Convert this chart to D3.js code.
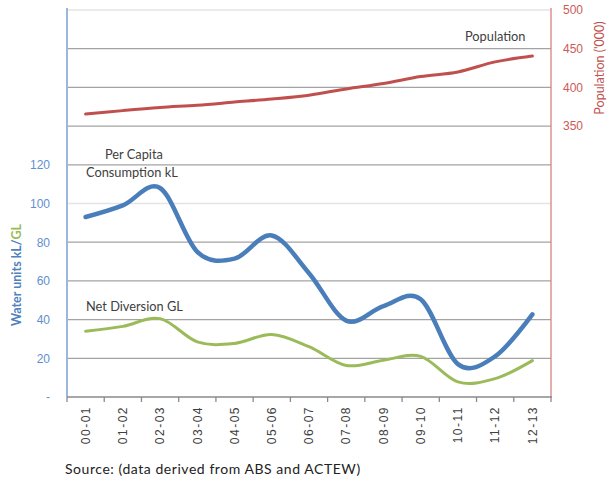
<!DOCTYPE html>
<html>
<head>
<meta charset="utf-8">
<script src="https://cdn.jsdelivr.net/npm/d3@7"></script>
<style>
  html, body { margin: 0; padding: 0; background: #fff; }
  svg { display: block; font-family: Lato, "Liberation Sans", sans-serif; }
</style>
</head>
<body>
<svg id="chart" width="611" height="482"></svg>
<script>
const categories = ["00-01","01-02","02-03","03-04","04-05","05-06","06-07","07-08","08-09","09-10","10-11","11-12","12-13"];
const perCapita = [93, 99, 108, 75, 71.5, 83.5, 64, 39.5, 47, 50.5, 17, 21, 42.7];
const netDiversion = [34, 36.5, 40.5, 28.5, 27.7, 32.3, 26, 16.3, 19, 21, 7.8, 9.5, 18.8];
const population = [365.5, 370, 374, 377, 381, 385, 390, 398, 405, 414, 420, 433, 440.5];
const leftTicks = [0, 20, 40, 60, 80, 100, 120];
const rightTicks = [350, 400, 450, 500];
const gridValues = [20, 40, 60, 80, 100, 120, 140, 160, 180, 200];

const svg = d3.select("#chart");
const L = 67, R = 551, T = 10, B = 397;

const x = d3.scaleBand().domain(categories).range([L, R]).padding(0);
const yL = d3.scaleLinear().domain([0, 200]).range([B, T]);
const yR = d3.scaleLinear().domain([0, 500]).range([B, T]);
const cx = c => x(c) + x.bandwidth() / 2;

// gridlines
svg.append("g").selectAll("line").data(gridValues).join("line")
  .attr("x1", L).attr("x2", R)
  .attr("y1", d => yL(d)).attr("y2", d => yL(d))
  .attr("stroke", d => (d === 100 || d === 200) ? "#e4e4e4" : "#a3a3a3")
  .attr("stroke-width", 1.3);

// left axis
const gl = svg.append("g").attr("transform", `translate(${L},0)`)
  .call(d3.axisLeft(yL).tickValues(leftTicks).tickSize(0).tickPadding(17)
    .tickFormat(d => d === 0 ? "-" : d));
gl.select(".domain").remove();
gl.selectAll("text").attr("fill", "#5f8fcf").attr("font-size", "12px");
svg.append("line").attr("x1", L).attr("x2", L).attr("y1", T - 2).attr("y2", B)
  .attr("stroke", "#9bb8dc").attr("stroke-width", 2);

// right axis
const gr = svg.append("g").attr("transform", `translate(${R},0)`)
  .call(d3.axisRight(yR).tickValues(rightTicks).tickSize(0).tickPadding(12));
gr.select(".domain").remove();
gr.selectAll("text").attr("fill", "#cc5a57").attr("font-size", "12px");
svg.append("line").attr("x1", R).attr("x2", R).attr("y1", T - 2).attr("y2", B)
  .attr("stroke", "#d9817f").attr("stroke-width", 1.3);

// bottom axis
svg.append("line").attr("x1", L).attr("x2", R + 1).attr("y1", B).attr("y2", B)
  .attr("stroke", "#8a8a8a").attr("stroke-width", 1.3);
const edges = categories.map(c => x(c)).concat([R]);
svg.append("g").selectAll("line").data(edges).join("line")
  .attr("x1", d => d).attr("x2", d => d).attr("y1", B).attr("y2", B + 5)
  .attr("stroke", "#8a8a8a").attr("stroke-width", 1.3);
const gb = svg.append("g").attr("transform", `translate(0,${B})`)
  .call(d3.axisBottom(x).tickSize(0).tickPadding(0));
gb.select(".domain").remove();
gb.selectAll("text")
  .attr("transform", "rotate(-90)")
  .attr("text-anchor", "end")
  .attr("x", -9).attr("y", 0).attr("dy", "0.35em")
  .attr("fill", "#404040").attr("font-size", "12px")
  .attr("letter-spacing", "1.5px");

// lines
const curve = d3.curveCatmullRom.alpha(0);
const lineL = d3.line().x((d, i) => cx(categories[i])).y(d => yL(d)).curve(curve);
const lineR = d3.line().x((d, i) => cx(categories[i])).y(d => yR(d)).curve(curve);

svg.append("path").attr("d", lineR(population)).attr("fill", "none")
  .attr("stroke", "#c0504d").attr("stroke-width", 3).attr("stroke-linecap", "round");
svg.append("path").attr("d", lineL(netDiversion)).attr("fill", "none")
  .attr("stroke", "#9bbb59").attr("stroke-width", 3).attr("stroke-linecap", "round");
svg.append("path").attr("d", lineL(perCapita)).attr("fill", "none")
  .attr("stroke", "#4a7ebb").attr("stroke-width", 4.5).attr("stroke-linecap", "round");

// annotations
const ann = svg.append("g").attr("fill", "#404040").attr("font-size", "12.8px");
ann.append("text").attr("x", 465).attr("y", 41).text("Population");
ann.append("text").attr("x", 105).attr("y", 159).text("Per Capita");
ann.append("text").attr("x", 86).attr("y", 177).text("Consumption kL");
ann.append("text").attr("x", 86).attr("y", 311).text("Net Diversion GL");

// axis titles
const lt = svg.append("text")
  .attr("transform", "translate(21,275) rotate(-90)")
  .attr("text-anchor", "middle").attr("font-size", "12.5px").attr("font-weight", "bold");
lt.append("tspan").attr("fill", "#4f81bd").text("Water units kL/");
lt.append("tspan").attr("fill", "#9bbb59").text("GL");

svg.append("text")
  .attr("transform", "translate(604,68) rotate(-90)")
  .attr("text-anchor", "middle").attr("font-size", "12.5px")
  .attr("fill", "#c0504d").text("Population ('000)");

// source
svg.append("text").attr("x", 65).attr("y", 474)
  .attr("font-size", "14px").attr("fill", "#222").attr("letter-spacing", "0.55px")
  .text("Source: (data derived from ABS and ACTEW)");
</script>
</body>
</html>
